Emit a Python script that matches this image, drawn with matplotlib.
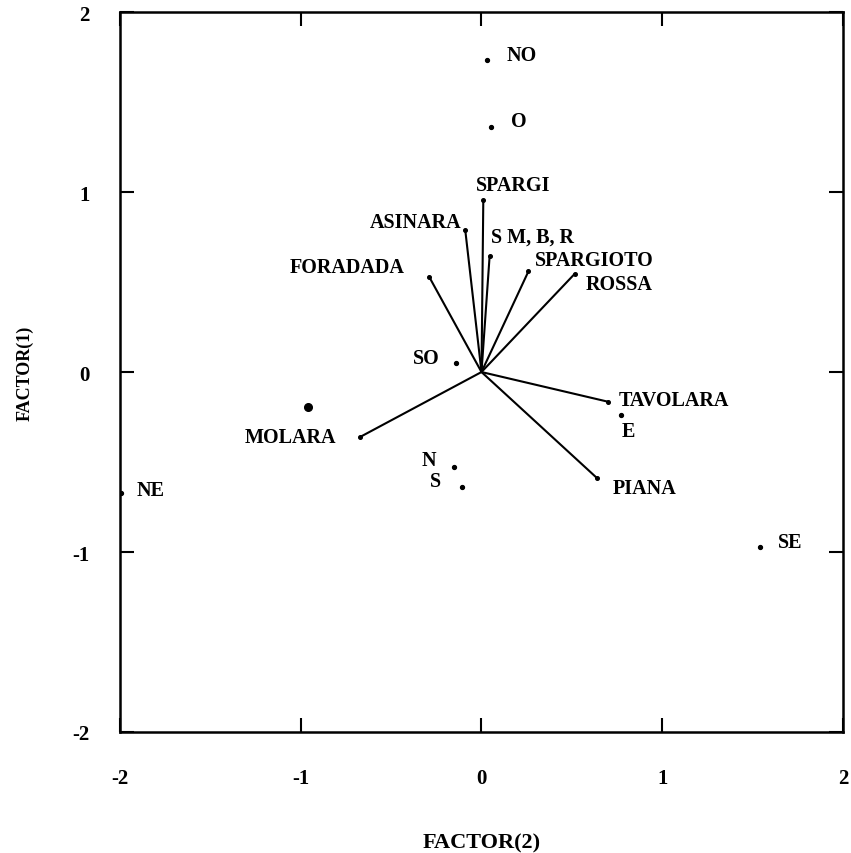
import numpy as np
import matplotlib.pyplot as plt

# island loadings, drawn as vectors from the origin
islands = ['SPARGI', 'ASINARA', 'S M, B, R', 'SPARGIOTO', 'ROSSA',
           'FORADADA', 'TAVOLARA', 'PIANA', 'MOLARA']
isl_x = [0.01, -0.09, 0.045, 0.26, 0.515, -0.29, 0.70, 0.64, -0.67]
isl_y = [0.955, 0.79, 0.645, 0.56, 0.545, 0.53, -0.165, -0.59, -0.36]

# wind directions, drawn as plain dots
winds = ['NO', 'O', 'SO', 'N', 'S', 'E', 'SE', 'NE']
wind_x = [0.03, 0.055, -0.14, -0.15, -0.11, 0.77, 1.54, -1.995]
wind_y = [1.733, 1.36, 0.05, -0.53, -0.64, -0.24, -0.97, -0.67]

# the single heavy point left of the origin
big_x = [-0.96]
big_y = [-0.195]

ticks = [-2, -1, 0, 1, 2]

# label offsets in pixels and alignment
isl_off = [(30, 15, 'center'), (-4, 8, 'right'), (1, 19, 'left'),
           (6, 11, 'left'), (11, -10, 'left'), (-25, 10, 'right'),
           (11, 2, 'left'), (16, -10, 'left'), (-24, 0, 'right')]
wind_off = [(20, 5, 'left'), (20, 6, 'left'), (-17, 5, 'right'),
            (-18, 7, 'right'), (-21, 6, 'right'), (1, -16, 'left'),
            (18, 5, 'left'), (16, 3, 'left')]

plt.rcParams['font.family'] = ['Liberation Serif', 'DejaVu Serif']
plt.rcParams['font.weight'] = 'bold'

fig = plt.figure(figsize=(8.51, 8.54), dpi=100)
ax = fig.add_axes([0.141, 0.1417, 0.8496, 0.843])

for x, y, name, (dx, dy, ha) in zip(isl_x, isl_y, islands, isl_off):
    ax.plot([0, x], [0, y], color='black', lw=1.5, solid_capstyle='round')
    ax.plot(x, y, 'o', color='black', ms=2.6)
    ax.annotate(name, (x, y), xytext=(dx, dy), textcoords='offset pixels',
                ha=ha, va='center', fontsize=14.5, fontweight='bold')

for x, y, name, (dx, dy, ha) in zip(wind_x, wind_y, winds, wind_off):
    ax.plot(x, y, 'o', color='black', ms=2.8)
    ax.annotate(name, (x, y), xytext=(dx, dy), textcoords='offset pixels',
                ha=ha, va='center', fontsize=14.5, fontweight='bold')

ax.plot(big_x, big_y, 'o', color='black', ms=5.5)

ax.set_xlim(-2, 2)
ax.set_ylim(-2, 2)
ax.set_xticks(ticks)
ax.set_yticks(ticks)
ax.set_xticklabels([str(t) for t in ticks], fontsize=15, fontweight='bold')
ax.set_yticklabels([str(t) for t in ticks], fontsize=15, fontweight='bold')
ax.tick_params(direction='in', length=10, width=1.5, top=True, right=True)
ax.tick_params(axis='x', pad=26)
ax.tick_params(axis='y', pad=22)
for lab in ax.get_yticklabels():
    lab.set_va('center_baseline')
for s in ax.spines.values():
    s.set_linewidth(1.8)

ax.set_xlabel('FACTOR(2)', fontsize=16, fontweight='bold', labelpad=32)
ax.set_ylabel('FACTOR(1)', fontsize=13, fontweight='bold', labelpad=28)

fig.savefig('out.png', dpi=100)
